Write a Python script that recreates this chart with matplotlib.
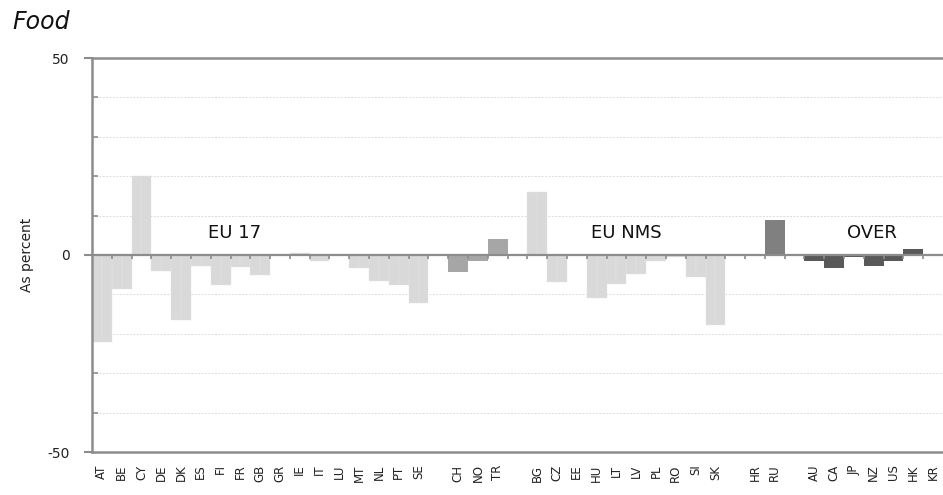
import matplotlib
matplotlib.use("Agg")
import matplotlib.pyplot as plt
import numpy as np

plt.rcParams['font.family'] = ['DejaVu Sans']

# country codes per group (blank slot between groups)
eu17 = ["AT", "BE", "CY", "DE", "DK", "ES", "FI", "FR", "GB", "GR",
        "IE", "IT", "LU", "MT", "NL", "PT", "SE"]
eu17_vals = [-22, -8.6, 20, -4.0, -16.4, -2.9, -7.7, -3.0, -5.2, 0,
             0.6, -1.4, 0, -3.3, -6.7, -7.5, -12.2]

other_eu = ["CH", "NO", "TR"]
other_eu_vals = [-4.4, -1.4, 4.1]

nms = ["BG", "CZ", "EE", "HU", "LT", "LV", "PL", "RO", "SI", "SK"]
nms_vals = [16, -6.8, 0, -11, -7.4, -4.9, -1.6, -0.4, -5.5, -17.8]

cand = ["HR", "RU"]
cand_vals = [0, 8.8]

over = ["AU", "CA", "JP", "NZ", "US", "HK", "KR"]
over_vals = [-1.4, -3.2, -0.6, -2.7, -1.6, 1.4, 0]

groups = [
    (eu17, eu17_vals, "#d9d9d9"),
    (other_eu, other_eu_vals, "#a6a6a6"),
    (nms, nms_vals, "#d9d9d9"),
    (cand, cand_vals, "#808080"),
    (over, over_vals, "#595959"),
]

fig = plt.figure(figsize=(9.43, 4.95), dpi=100)
ax = fig.add_axes([92 / 943, 43 / 495, 851 / 943, 394 / 495])

labels = []
pos = 0
for i, (names, vals, col) in enumerate(groups):
    x = np.arange(pos, pos + len(names))
    vals = np.array(vals)
    if col == "#d9d9d9":
        # light bars show a faint seam in the middle
        ax.bar(x - 0.25, vals, width=0.5, color=col, edgecolor="#e3e3e3",
               linewidth=0.3, zorder=2)
        ax.bar(x + 0.25, vals, width=0.5, color=col, edgecolor="#e3e3e3",
               linewidth=0.3, zorder=2)
    else:
        ax.bar(x, vals, width=1.0, color=col, linewidth=0, zorder=2)
    labels += names
    pos += len(names)
    if i < len(groups) - 1:
        labels.append("")
        pos += 1

n = len(labels)
xs = np.arange(n)
ax.set_xlim(-0.5, n - 0.5)
ax.set_ylim(-50, 50)

# grid lines every 10
for y in range(-40, 50, 10):
    if y != 0:
        ax.axhline(y, color="#dcdcdc", lw=0.7, ls=(0, (2, 1.5)), zorder=1)
ax.axhline(0, color="#8c8c8c", lw=1.6, zorder=3)
ax.axhline(50, color="#8c8c8c", lw=1.8, zorder=3, clip_on=False)

# small ticks below zero line at category boundaries
ax.vlines(np.arange(n - 1) + 0.5, -1.1, 0, color="#8c8c8c", lw=1.2, zorder=3)

ax.set_xticks(xs)
ax.set_xticklabels(labels, rotation=90, fontsize=8.5, color="#222222")
ax.tick_params(axis="x", length=0, pad=9)

ax.set_yticks([-50, 0, 50])
ax.set_yticklabels(["-50", "0", "50"], fontsize=10, color="#222222")
ax.set_yticks(np.arange(-40, 50, 10), minor=True)
ax.tick_params(axis="y", which="major", length=6, width=1.5, color="#8c8c8c",
               direction="out", pad=10)
ax.tick_params(axis="y", which="minor", length=4, width=1.2, color="#8c8c8c",
               direction="in")

for side in ["top", "right"]:
    ax.spines[side].set_visible(False)
for side in ["left", "bottom"]:
    ax.spines[side].set_color("#8c8c8c")
    ax.spines[side].set_linewidth(1.8)

# group names
ax.text(6.7, 5.6, "EU 17", fontsize=13, ha="center", va="center", color="#111111")
ax.text(26.5, 5.6, "EU NMS", fontsize=13, ha="center", va="center", color="#111111")
ax.text(38.9, 5.6, "OVER", fontsize=13, ha="center", va="center", color="#111111")

fig.text(12 / 943, 1 - 22 / 495, "Food", fontsize=17, style="italic",
         ha="left", va="center", color="#111111")
fig.text(27 / 943, 1 - 255 / 495, "As percent", fontsize=10, rotation=90,
         ha="center", va="center", color="#222222")

fig.savefig("out.png", dpi=100)
